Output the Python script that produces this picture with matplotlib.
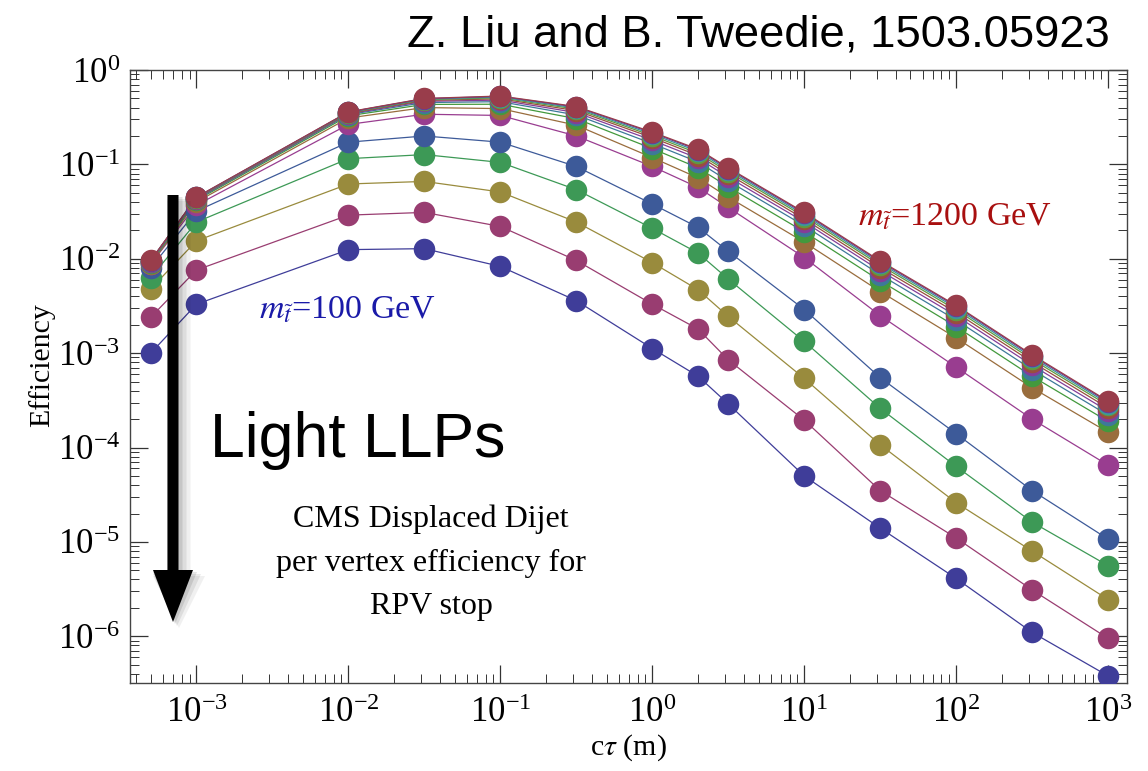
import colorsys
import matplotlib
matplotlib.use("Agg")
import matplotlib.pyplot as plt
from matplotlib.patches import FancyArrow
from matplotlib.ticker import LogLocator, NullFormatter

plt.rcParams['font.family'] = ['Liberation Serif', 'DejaVu Serif']
plt.rcParams['mathtext.fontset'] = 'stix'
plt.rcParams['xtick.labelsize'] = 25
plt.rcParams['ytick.labelsize'] = 25
plt.rcParams['axes.labelsize'] = 21.5

# c*tau values (m)
ctau = [5e-4, 1e-3, 1e-2, 3.16e-2, 1e-1, 3.16e-1, 1, 2, 3.16, 10, 31.6, 100, 316, 1000]

# per-vertex efficiency, one list per stop mass (lightest first)
eff_1 = [1.0e-3, 3.3e-3, 1.25e-2, 1.28e-2, 8.3e-3, 3.6e-3, 1.12e-3, 5.7e-4, 2.9e-4, 5.0e-5, 1.4e-5, 4.1e-6, 1.1e-6, 3.8e-7]
eff_2 = [2.4e-3, 7.6e-3, 2.9e-2, 3.1e-2, 2.2e-2, 9.6e-3, 3.3e-3, 1.8e-3, 8.5e-4, 1.95e-4, 3.5e-5, 1.1e-5, 3.1e-6, 9.5e-7]
eff_3 = [4.8e-3, 1.55e-2, 6.2e-2, 6.6e-2, 5.1e-2, 2.45e-2, 9.1e-3, 4.7e-3, 2.45e-3, 5.4e-4, 1.07e-4, 2.6e-5, 8.0e-6, 2.45e-6]
eff_4 = [6.3e-3, 2.45e-2, 1.15e-1, 1.27e-1, 1.05e-1, 5.4e-2, 2.1e-2, 1.15e-2, 6.1e-3, 1.33e-3, 2.6e-4, 6.3e-5, 1.62e-5, 5.6e-6]
eff_5 = [8.0e-3, 3.2e-2, 1.72e-1, 2.0e-1, 1.72e-1, 9.5e-2, 3.8e-2, 2.15e-2, 1.2e-2, 2.9e-3, 5.5e-4, 1.4e-4, 3.5e-5, 1.07e-5]
eff_6 = [8.8e-3, 3.7e-2, 2.65e-1, 3.4e-1, 3.3e-1, 2.0e-1, 9.5e-2, 5.7e-2, 3.5e-2, 1.03e-2, 2.5e-3, 7.1e-4, 2.0e-4, 6.5e-5]
eff_7 = [8.8e-3, 4.0e-2, 3.1e-1, 4.0e-1, 3.9e-1, 2.6e-1, 1.18e-1, 7.2e-2, 4.5e-2, 1.5e-2, 4.5e-3, 1.45e-3, 4.3e-4, 1.45e-4]
eff_8 = [9.07e-3, 4.17e-2, 3.27e-1, 4.32e-1, 4.34e-1, 3.05e-1, 1.47e-1, 9.2e-2, 5.78e-2, 1.93e-2, 5.84e-3, 1.91e-3, 5.69e-4, 1.89e-4]
eff_9 = [9.23e-3, 4.27e-2, 3.37e-1, 4.52e-1, 4.62e-1, 3.34e-1, 1.66e-1, 1.06e-1, 6.67e-2, 2.24e-2, 6.78e-3, 2.24e-3, 6.69e-4, 2.2e-4]
eff_10 = [9.34e-3, 4.33e-2, 3.43e-1, 4.66e-1, 4.8e-1, 3.54e-1, 1.8e-1, 1.16e-1, 7.32e-2, 2.46e-2, 7.47e-3, 2.49e-3, 7.43e-4, 2.43e-4]
eff_11 = [9.42e-3, 4.38e-2, 3.48e-1, 4.76e-1, 4.95e-1, 3.71e-1, 1.92e-1, 1.24e-1, 7.87e-2, 2.64e-2, 8.05e-3, 2.69e-3, 8.05e-4, 2.62e-4]
eff_12 = [9.49e-3, 4.42e-2, 3.52e-1, 4.85e-1, 5.07e-1, 3.85e-1, 2.01e-1, 1.31e-1, 8.33e-2, 2.8e-2, 8.55e-3, 2.87e-3, 8.58e-4, 2.79e-4]
eff_13 = [9.54e-3, 4.46e-2, 3.56e-1, 4.91e-1, 5.17e-1, 3.95e-1, 2.09e-1, 1.37e-1, 8.69e-2, 2.92e-2, 8.94e-3, 3.01e-3, 9.01e-4, 2.92e-4]
eff_14 = [9.58e-3, 4.48e-2, 3.58e-1, 4.97e-1, 5.25e-1, 4.05e-1, 2.16e-1, 1.42e-1, 9.01e-2, 3.03e-2, 9.28e-3, 3.13e-3, 9.38e-4, 3.03e-4]
eff_15 = [9.6e-3, 4.5e-2, 3.6e-1, 5.0e-1, 5.3e-1, 4.1e-1, 2.2e-1, 1.45e-1, 9.2e-2, 3.1e-2, 9.5e-3, 3.2e-3, 9.6e-4, 3.1e-4]

series = [eff_1, eff_2, eff_3, eff_4, eff_5, eff_6, eff_7, eff_8,
          eff_9, eff_10, eff_11, eff_12, eff_13, eff_14, eff_15]

# Mathematica-style default hues (saturation 0.6, brightness 0.6)
hues = [0.67, 0.906068, 0.142136, 0.378204, 0.614272, 0.85034, 0.086408, 0.322476,
        0.558544, 0.794612, 0.03068, 0.266748, 0.502816, 0.738884, 0.974952]
colors = [colorsys.hsv_to_rgb(h, 0.6, 0.6) for h in hues]

fig = plt.figure(figsize=(11.48, 7.71), dpi=100)
ax = fig.add_axes([0.1132, 0.1141, 0.8685, 0.7951])

for eff, c in zip(series, colors):
    ax.plot(ctau, eff, '-', color=c, lw=0.9, zorder=2)
for eff, c in zip(series, colors):
    ax.plot(ctau, eff, 'o', color=c, ms=15.5, mec='none', zorder=3)

ax.set_xscale('log')
ax.set_yscale('log')
ax.set_xlim(3.65e-4, 1330)
ax.set_ylim(3.2e-7, 1.0)

ax.xaxis.set_major_locator(LogLocator(base=10, numticks=20))
ax.yaxis.set_major_locator(LogLocator(base=10, numticks=20))
ax.xaxis.set_minor_locator(LogLocator(base=10, subs=range(2, 10), numticks=20))
ax.yaxis.set_minor_locator(LogLocator(base=10, subs=range(2, 10), numticks=20))
ax.xaxis.set_minor_formatter(NullFormatter())
ax.yaxis.set_minor_formatter(NullFormatter())
ax.tick_params(which='both', direction='in', top=True, right=True, color='#333333')
ax.tick_params(which='major', length=13, width=0.9)
ax.tick_params(axis='x', which='major', pad=10)
ax.tick_params(axis='y', which='major', pad=7)
ax.tick_params(which='minor', length=6.5, width=0.7)
for sp in ax.spines.values():
    sp.set_color('#444444')
    sp.set_linewidth(1.0)

ax.set_xlabel(r'c$\tau$ (m)', va='center')
ax.set_ylabel('Efficiency', va='center')
ax.xaxis.set_label_coords(0.4995, -0.106)
ax.yaxis.set_label_coords(-0.089, 0.519)

# annotations
fig.text(0.967, 0.955, 'Z. Liu and B. Tweedie, 1503.05923', ha='right', va='center',
         fontsize=32.7, family='Liberation Sans')
ax.text(0.08, 0.395, 'Light LLPs', transform=ax.transAxes, ha='left', va='center',
        fontsize=45, family='Liberation Sans')
ax.text(0.302, 0.196, 'CMS Displaced Dijet\nper vertex efficiency for\nRPV stop',
        transform=ax.transAxes, ha='center', va='center', fontsize=23, linespacing=1.65)
ax.text(0.129, 0.594, r'$m_{\tilde{t}}$=100 GeV', transform=ax.transAxes,
        ha='left', va='baseline', fontsize=24.5, color='#1a1aa8')
ax.text(0.730, 0.747, r'$m_{\tilde{t}}$=1200 GeV', transform=ax.transAxes,
        ha='left', va='baseline', fontsize=24.5, color='#a80f0f')

# big downward arrow with a soft shadow
x0 = 173 / 1148
y_top = 1 - 195 / 771
y_bot = 1 - 622 / 771
for off, a in [(6, 0.06), (4, 0.08), (2, 0.10)]:
    fig.add_artist(FancyArrow(x0 + off / 1148, y_top - off / 771, 0, y_bot - y_top,
                              width=(11 + 2 * off) / 1148, head_width=(40 + 2 * off) / 1148,
                              head_length=52 / 771, length_includes_head=True,
                              transform=fig.transFigure, color='black', alpha=a, lw=0))
fig.add_artist(FancyArrow(x0, y_top, 0, y_bot - y_top, width=11 / 1148,
                          head_width=40 / 1148, head_length=52 / 771,
                          length_includes_head=True, transform=fig.transFigure,
                          color='black', lw=0))

fig.savefig('out.png', dpi=100)
